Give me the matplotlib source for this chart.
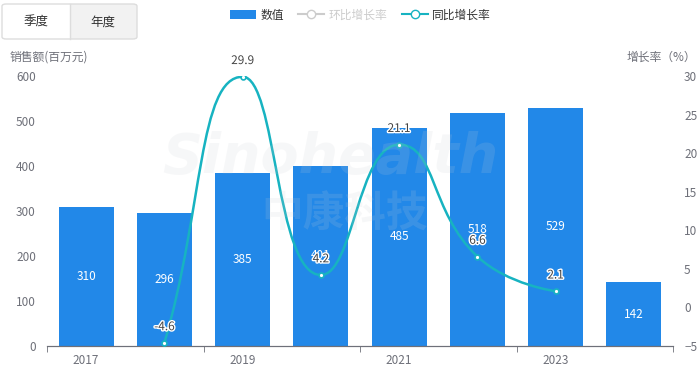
import numpy as np
import matplotlib
matplotlib.use("Agg")
import matplotlib.pyplot as plt
from matplotlib.path import Path
from matplotlib.patches import PathPatch, FancyBboxPatch, Rectangle, Patch
from matplotlib.lines import Line2D
import matplotlib.patheffects as pe

plt.rcParams["font.family"] = ["Noto Sans CJK SC", "DejaVu Sans"]

# ---------- Datos ----------
years = ["2017", "2018", "2019", "2020", "2021", "2022", "2023", "2024"]
sales = [310, 296, 385, 401, 485, 518, 529, 142]
yoy_years = ["2018", "2019", "2020", "2021", "2022", "2023"]
yoy = [-4.6, 29.9, 4.2, 21.1, 6.6, 2.1]
tick_years = ["2017", "2019", "2021", "2023"]

BAR = "#2288e8"
LINE = "#17b3c1"
AXIS = "#6e7079"
W, H = 700, 369

fig = plt.figure(figsize=(7, 3.69), dpi=100)
ax = fig.add_axes([47 / W, 1 - 346 / H, 626 / W, 270 / H])
ax2 = ax.twinx()

x = np.arange(len(years))
ax.bar(x, sales, width=0.7, color=BAR, zorder=2)
for xi, v in zip(x, sales):
    ax.text(xi, v / 2, str(v), ha="center", va="center", color="white", fontsize=8.5, zorder=3)

ax.set_xlim(-0.5, len(years) - 0.5)
ax.set_ylim(0, 600)
ax.set_yticks(range(0, 601, 100))
ax2.set_ylim(-5, 30)
ax2.set_yticks(range(-5, 31, 5))

# eje x: marcas en los limites, etiquetas cada 2 años
ax.set_xticks([years.index(t) for t in tick_years])
ax.set_xticklabels(tick_years)
ax.set_xticks(np.arange(-0.5, len(years), 2), minor=True)
ax.tick_params(axis="x", which="major", length=0, colors=AXIS, labelsize=8.5, pad=6)
ax.tick_params(axis="x", which="minor", length=4, color=AXIS)
ax.tick_params(axis="y", length=0, colors=AXIS, labelsize=8.5, pad=8)
ax2.tick_params(axis="y", length=0, colors=AXIS, labelsize=8.5, pad=8)
for a in (ax, ax2):
    for s in ("top", "left", "right"):
        a.spines[s].set_visible(False)
    a.spines["bottom"].set_color(AXIS)


# ---------- Línea suavizada (como echarts, smooth=0.5 con restricción) ----------
def smooth_path(pts, smooth=0.5):
    n = len(pts)
    cin = [p.copy() for p in pts]
    cout = [p.copy() for p in pts]
    for i in range(n):
        p = pts[i]
        if i == 0:
            nxt = pts[1]
            cout[i] = p + (nxt - p) * smooth
            continue
        if i == n - 1:
            cin[i] = p.copy()
            continue
        prev, nxt = pts[i - 1], pts[i + 1]
        v = nxt - prev
        l0 = np.hypot(*(p - prev))
        l1 = np.hypot(*(nxt - p))
        r = l1 / (l0 + l1)
        nc = p + v * smooth * r
        nc = np.minimum(nc, np.maximum(nxt, p))
        nc = np.maximum(nc, np.minimum(nxt, p))
        v = nc - p
        c1 = p - v * l0 / l1
        c1 = np.minimum(c1, np.maximum(prev, p))
        c1 = np.maximum(c1, np.minimum(prev, p))
        v = p - c1
        nc = p + v * l1 / l0
        cin[i], cout[i] = c1, nc
    verts = [pts[0]]
    codes = [Path.MOVETO]
    for i in range(n - 1):
        verts += [cout[i], cin[i + 1], pts[i + 1]]
        codes += [Path.CURVE4] * 3
    return np.array(verts), codes


lx = np.array([years.index(y) for y in yoy_years], dtype=float)
pts = ax2.transData.transform(np.column_stack([lx, yoy]))
verts, codes = smooth_path(pts)
verts = ax2.transData.inverted().transform(verts)
ax2.add_patch(PathPatch(Path(verts, codes), fill=False, edgecolor=LINE, lw=1.8, zorder=4))
ax2.plot(lx, yoy, ls="none", marker="o", ms=3.5, mfc="white", mec=LINE, mew=1.2, zorder=5)
for xi, v in zip(lx, yoy):
    ax2.annotate(f"{v}", (xi, v), xytext=(0, 7), textcoords="offset points",
                 ha="center", va="bottom", fontsize=8.5, color="#444", zorder=6,
                 path_effects=[pe.withStroke(linewidth=2, foreground="white")])

# ---------- Títulos de ejes ----------
fig.text(10 / W, 1 - 57 / H, "销售额(百万元)", ha="left", va="center", fontsize=8.5, color=AXIS)
fig.text(696 / W, 1 - 57 / H, "增长率（%）", ha="right", va="center", fontsize=8.5, color=AXIS)

# marca de agua
fig.text(330 / W, 1 - 158 / H, "Sinohealth", ha="center", va="center", fontsize=40,
         fontweight="bold", style="italic", family="DejaVu Sans", color="#c8ccd4", alpha=0.15, zorder=10)
fig.text(345 / W, 1 - 215 / H, "中康科技", ha="center", va="center", fontsize=30,
         fontweight="bold", color="#c8ccd4", alpha=0.15, zorder=10)

# ---------- Leyenda ----------
handles = [
    Patch(facecolor=BAR, edgecolor="none"),
    Line2D([], [], color="#cccccc", lw=1.5, marker="o", ms=6, mfc="white", mec="#cccccc"),
    Line2D([], [], color=LINE, lw=1.5, marker="o", ms=6, mfc="white", mec=LINE),
]
leg = fig.legend(handles, ["数值", "环比增长率", "同比增长率"], loc="center",
                 bbox_to_anchor=(0.515, 1 - 15 / H), ncol=3, frameon=False,
                 fontsize=8.5, handlelength=2.2, handletextpad=0.4, columnspacing=1.2)
for t, c in zip(leg.get_texts(), ["#333333", "#cccccc", "#333333"]):
    t.set_color(c)

# ---------- Botones ----------
fig.patches.append(Rectangle((70 / W, 1 - 39 / H), 67 / W, 35 / H, transform=fig.transFigure,
                             facecolor="#f2f2f2", edgecolor="none", zorder=0))
fig.patches.append(FancyBboxPatch((2 / W, 1 - 39 / H), 135 / W, 35 / H, transform=fig.transFigure,
                                  boxstyle="round,pad=0,rounding_size=0.006", facecolor="none",
                                  edgecolor="#dddddd", lw=1, zorder=1))
fig.lines.append(Line2D([70 / W, 70 / W], [1 - 39 / H, 1 - 4 / H], transform=fig.transFigure,
                        color="#dddddd", lw=1))
fig.text(36 / W, 1 - 22 / H, "季度", ha="center", va="center", fontsize=9, color="#333333")
fig.text(103 / W, 1 - 22 / H, "年度", ha="center", va="center", fontsize=9, color="#333333")

fig.savefig("out.png", dpi=100)
